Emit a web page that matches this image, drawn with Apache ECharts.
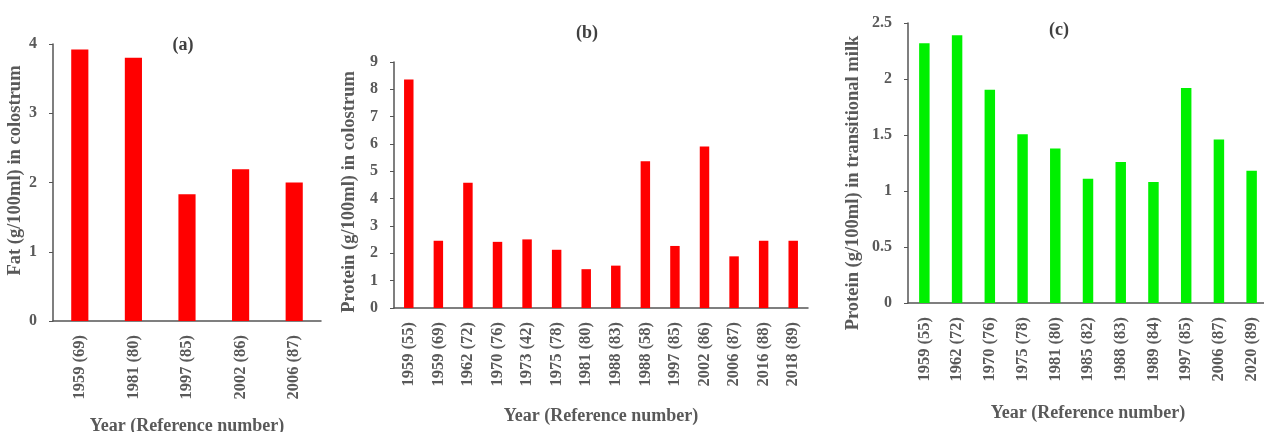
<!DOCTYPE html>
<html>
<head>
<meta charset="utf-8">
<script src="https://cdn.jsdelivr.net/npm/echarts@6/dist/echarts.min.js"></script>
<style>html,body{margin:0;padding:0;background:#fff}#c{width:1264px;height:432px}</style>
</head>
<body>
<div id="c"></div>
<script>
// Panel (a): Fat in colostrum
const catsA = ['1959 (69)', '1981 (80)', '1997 (85)', '2002 (86)', '2006 (87)'];
const valsA = [3.92, 3.80, 1.83, 2.19, 2.00];

// Panel (b): Protein in colostrum
const catsB = ['1959 (55)', '1959 (69)', '1962 (72)', '1970 (76)', '1973 (42)', '1975 (78)', '1981 (80)',
  '1988 (83)', '1988 (58)', '1997 (85)', '2002 (86)', '2006 (87)', '2016 (88)', '2018 (89)'];
const valsB = [8.36, 2.46, 4.58, 2.42, 2.51, 2.13, 1.42, 1.55, 5.37, 2.27, 5.91, 1.89, 2.46, 2.46];

// Panel (c): Protein in transitional milk
const catsC = ['1959 (55)', '1962 (72)', '1970 (76)', '1975 (78)', '1981 (80)', '1985 (82)', '1988 (83)',
  '1989 (84)', '1997 (85)', '2006 (87)', '2020 (89)'];
const valsC = [2.32, 2.39, 1.905, 1.506, 1.38, 1.11, 1.26, 1.08, 1.92, 1.46, 1.18];

const titles = ['(a)', '(b)', '(c)'];
const yNames = ['Fat (g/100ml) in colostrum', 'Protein (g/100ml) in colostrum', 'Protein (g/100ml) in transitional milk'];
const xName = 'Year (Reference number)';

const FONT = '"Liberation Serif", serif';
const GREY = '#595959';
const AXIS = '#555555';

const grids = [
  {left: 53, right: 943, top: 44, bottom: 111, outerBoundsMode: 'none', containLabel: false},
  {left: 394, right: 456, top: 62, bottom: 124, outerBoundsMode: 'none', containLabel: false},
  {left: 908, right: -4, top: 23, bottom: 129, outerBoundsMode: 'none', containLabel: false}
];
const yMax = [4, 9, 2.5];
const yInt = [1, 1, 0.5];
const yGap = [27, 35, 45];
const yNamePad = [[0, 0, 0, 24], [0, 14, 0, 0], [0, 40, 0, 0]];
const xGap = [96, 99, 101];
const cats = [catsA, catsB, catsC];
const vals = [valsA, valsB, valsC];
const colors = ['#ff0000', '#ff0000', '#00f000'];
const titlePos = [[178, 31], [582, 19], [1054, 16]];

const option = {
  backgroundColor: '#ffffff',
  animation: false,
  title: titles.map((t, i) => ({
    text: t, left: titlePos[i][0], top: titlePos[i][1], textAlign: 'center',
    textStyle: {fontFamily: FONT, fontWeight: 'bold', fontSize: 18, color: '#404040'}
  })),
  grid: grids,
  xAxis: cats.map((c, i) => ({
    type: 'category', gridIndex: i, data: c,
    name: xName, nameLocation: 'middle', nameGap: xGap[i],
    nameTextStyle: {fontFamily: FONT, fontWeight: 'bold', fontSize: 18, color: GREY, verticalAlign: 'top'},
    axisLine: {lineStyle: {color: AXIS, width: 1.5}},
    axisTick: {show: false},
    axisLabel: {rotate: 90, margin: 14, interval: 0, fontFamily: FONT, fontWeight: 'bold', fontSize: 16.5, color: GREY}
  })),
  yAxis: cats.map((c, i) => ({
    type: 'value', gridIndex: i, min: 0, max: yMax[i], interval: yInt[i],
    name: yNames[i], nameLocation: 'middle', nameGap: yGap[i],
    nameTextStyle: {fontFamily: FONT, fontWeight: 'bold', fontSize: 18.5, color: GREY, padding: yNamePad[i]},
    axisLine: {show: true, lineStyle: {color: AXIS, width: 1.5}},
    axisTick: {show: true, length: 4, lineStyle: {color: AXIS}},
    splitLine: {show: false},
    axisLabel: {margin: 16, fontFamily: FONT, fontWeight: 'bold', fontSize: 16, color: GREY}
  })),
  series: vals.map((v, i) => ({
    type: 'bar', xAxisIndex: i, yAxisIndex: i, data: v,
    barWidth: '32%',
    itemStyle: {color: colors[i]}
  }))
};

const chart = echarts.init(document.getElementById('c'), null, {renderer: 'canvas'});
chart.setOption(option);
</script>
</body>
</html>
